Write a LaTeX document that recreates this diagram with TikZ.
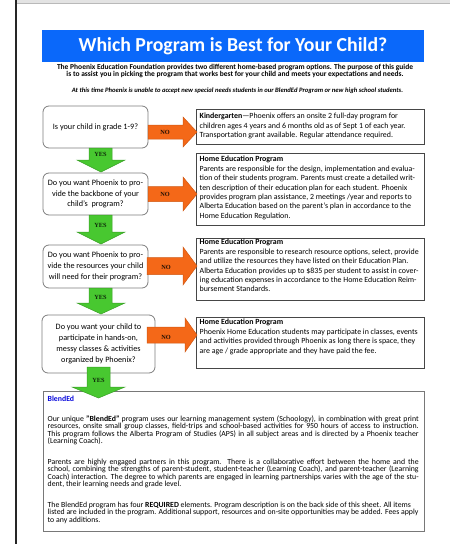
\documentclass[tikz,border=0pt]{standalone}
\usepackage{fontspec}
\setmainfont{Carlito}
\newfontfamily\labfont{Liberation Serif}
\definecolor{titleblue}{RGB}{10,104,250}
\definecolor{noorange}{RGB}{244,104,24}
\definecolor{yesgreen}{RGB}{72,200,48}
\definecolor{blendblue}{RGB}{10,10,220}
\definecolor{qgray}{RGB}{125,125,125}
\definecolor{agray}{RGB}{70,70,70}
\definecolor{bgray}{RGB}{120,120,120}
\newcommand\jl[1]{\hbox to \hsize{#1}}
\newcommand\rl[1]{\hbox{#1}}
\newcommand\rarrow[6]{%
  \path[noarr] (#1,#4-#5) -- (#2,#4-#5) -- (#2,#4-#6) -- (#3,#4) -- (#2,#4+#6) -- (#2,#4+#5) -- (#1,#4+#5) -- cycle;}
\newcommand\darrow[7]{%
  \path[yesarr] (#1,#5) -- (#2,#5) -- (#2,#6) -- (#4,#6) -- ({(#3+#4)/2},#7) -- (#3,#6) -- (#1,#6) -- cycle;}
\tikzset{
  titlebar/.style={fill=titleblue, minimum width=382pt, minimum height=32.5pt, inner sep=0pt, text=white, font=\fontsize{19.8}{20}\selectfont\bfseries},
  intro/.style={align=center, inner sep=0pt, font=\fontsize{7.5}{7.3}\selectfont\bfseries},
  note/.style={inner sep=0pt, font=\fontsize{6.65}{7}\selectfont\bfseries\itshape},
  qbox/.style={draw=qgray, line width=0.8pt, rounded corners=6pt, minimum width=105pt, align=center, inner sep=1pt, font=\fontsize{8.2}{10.8}\selectfont},
  abox/.style={draw=agray, line width=1pt, minimum width=228pt, inner sep=0pt},
  atext/.style={anchor=base west, inner sep=0pt, font=\fontsize{7.9}{9.4}\selectfont},
  bbox/.style={draw=bgray, line width=0.9pt, minimum width=381pt, minimum height=140pt, inner sep=0pt},
  noarr/.style={fill=noorange, draw=noorange!85!black, line width=0.5pt},
  yesarr/.style={fill=yesgreen, draw=yesgreen!80!black, line width=0.5pt},
  nolab/.style={inner sep=0pt, text=black!85!noorange, font=\labfont\fontsize{6.3}{6.3}\selectfont\bfseries},
  yeslab/.style={inner sep=0pt, text=black!80!yesgreen, font=\labfont\fontsize{6.3}{6.3}\selectfont\bfseries},
}
\begin{document}
\begin{tikzpicture}[x=1pt,y=-1pt]
\useasboundingbox (0,0) rectangle (450,544);
% page edge
\fill[gray!22] (16,0) rectangle (450,3.5);
\draw[gray!55, line width=0.6pt] (16,3.5) -- (450,3.5);
\draw[black!85, line width=1.6pt] (16,0) -- (16,544);
% title and intro
\node[titlebar] (title) at (233,45.75) {Which Program is Best for Your Child?};
\node[intro] (intro) at (235,71.3) {The Phoenix Education Foundation provides two different home-based program options. The purpose of this guide\\is to assist you in picking the program that works best for your child and meets your expectations and needs.};
\node[note] (note) at (237.5,91) {At this time Phoenix is unable to accept new special needs students in our BlendEd Program or new high school students.};
% questions
\node[qbox, minimum height=42pt] (q1) at (95.5,127) {Is your child in grade 1-9?};
\node[qbox, minimum height=42pt] (q2) at (95.5,194) {Do you want Phoenix to pro-\\vide the backbone of your\\child's\ \ program?};
\node[qbox, minimum height=43pt] (q3) at (95.5,266.5) {Do you want Phoenix to pro-\\vide the resources your child\\will need for their program?};
\node[qbox, minimum height=58pt, minimum width=113pt] (q4) at (98.5,344) {Do you want your child to\\participate in hands-on,\\messy classes \& activities\\organized by Phoenix?};
% answer boxes
\node[abox, minimum height=35pt] (a1) at (310,126.5) {};
\node[abox, minimum height=72pt] (a2) at (310,189) {};
\node[abox, minimum height=62pt] (a3) at (310,269) {};
\node[abox, minimum height=51pt] (a4) at (310,342.5) {};
\node[atext] (a1t) at (199.5,118.8) {\vtop{%
  \rl{\textbf{Kindergarten}—Phoenix offers an onsite 2 full-day program for}
  \rl{children ages 4 years and 6 months old as of Sept 1 of each year.}
  \rl{Transportation grant available. Regular attendance required.}}};
\node[atext] (a2t) at (199.5,161.8) {\vtop{%
  \rl{\textbf{Home Education Program}}
  \rl{Parents are responsible for the design, implementation and evalua-}
  \rl{tion of their students program. Parents must create a detailed writ-}
  \rl{ten description of their education plan for each student. Phoenix}
  \rl{provides program plan assistance, 2 meetings /year and reports to}
  \rl{Alberta Education based on the parent's plan in accordance to the}
  \rl{Home Education Regulation.}}};
\node[atext] (a3t) at (199.5,244.8) {\vtop{%
  \rl{\textbf{Home Education Program}}
  \rl{Parents are responsible to research resource options, select, provide}
  \rl{and utilize the resources they have listed on their Education Plan.}
  \rl{Alberta Education provides up to \$835 per student to assist in cover-}
  \rl{ing education expenses in accordance to the Home Education Reim-}
  \rl{bursement Standards.}}};
\node[atext] (a4t) at (199.5,324.8) {\vtop{%
  \rl{\textbf{Home Education Program}}
  \rl{Phoenix Home Education students may participate in classes, events}
  \rl{and activities provided through Phoenix as long there is space, they}
  \rl{are age / grade appropriate and they have paid the fee.}}};
% BlendEd box
\node[bbox] (blend) at (233.5,461) {};
\node[atext] (bt) at (47.5,401) {\vtop{\hsize=371pt \fontsize{7.8}{7.6}\selectfont
  \rl{\textcolor{blendblue}{\textbf{BlendEd}}}
  \vskip 12.4pt
  \jl{Our unique \textbf{"BlendEd"} program uses our learning management system (Schoology), in combination with great print}
  \jl{resources, onsite small group classes, field-trips and school-based activities for 950 hours of access to instruction.}
  \jl{This program follows the Alberta Program of Studies (APS) in all subject areas and is directed by a Phoenix teacher}
  \rl{(Learning Coach).}
  \vskip 12.6pt
  \jl{Parents are highly engaged partners in this program. There is a collaborative effort between the home and the}
  \jl{school, combining the strengths of parent-student, student-teacher (Learning Coach), and parent-teacher (Learning}
  \jl{Coach) interaction. The degree to which parents are engaged in learning partnerships varies with the age of the stu-}
  \rl{dent, their learning needs and grade level.}
  \vskip 12.6pt
  \rl{The BlendEd program has four \textbf{REQUIRED} elements. Program description is on the back side of this sheet. All items}
  \rl{listed are included in the program. Additional support, resources and on-site opportunities may be added. Fees apply}
  \rl{to any additions.}}};
% NO arrows
\rarrow{148}{183}{197}{132}{7}{15}
\rarrow{148}{183}{197}{194}{7.5}{17}
\rarrow{147}{183}{197}{266}{8.5}{19}
\rarrow{147}{185}{197}{335}{8}{17}
\node[nolab] (no1) at (165,132.5) {NO};
\node[nolab] (no2) at (165,194.5) {NO};
\node[nolab] (no3) at (166,267) {NO};
\node[nolab] (no4) at (166,337) {NO};
% YES arrows
\darrow{89}{112}{77}{125}{148}{160}{172}
\darrow{89}{112}{77}{125}{215}{232}{244}
\darrow{89}{112}{77}{125}{288}{303}{314}
\darrow{87}{110}{72}{125}{367}{387}{398}
\node[yeslab] (yes1) at (100.5,154.5) {YES};
\node[yeslab] (yes2) at (100.5,225) {YES};
\node[yeslab] (yes3) at (100.5,297) {YES};
\node[yeslab] (yes4) at (98.5,380) {YES};
\end{tikzpicture}
\end{document}
